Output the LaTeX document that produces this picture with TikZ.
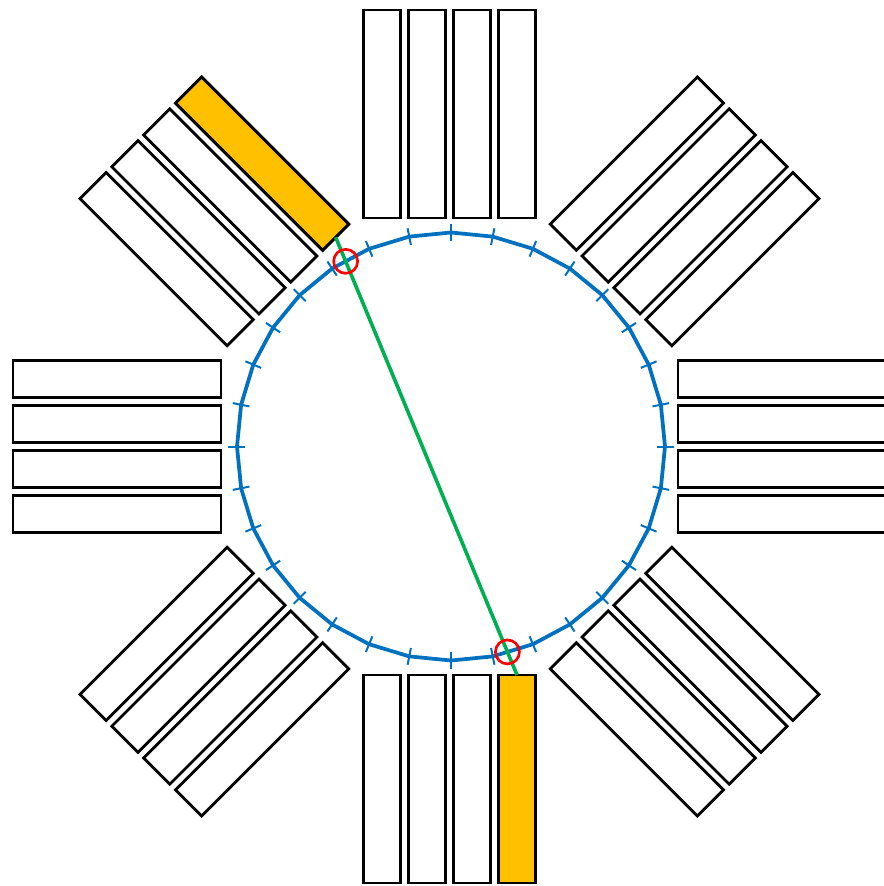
\documentclass[tikz,border=0pt]{standalone}
\usetikzlibrary{intersections}
\definecolor{detblue}{HTML}{0070C0}
\definecolor{detgreen}{HTML}{00B050}
\definecolor{detyellow}{HTML}{FFC000}
\begin{document}
\begin{tikzpicture}[x=0.75pt,y=0.75pt,
  crystal/.style={draw=black,line width=2.1pt,fill=white},
  hot/.style={draw=black,line width=2.1pt,fill=detyellow},
  ring/.style={draw=detblue,line width=2.8pt,line join=round},
  ringtick/.style={draw=detblue,line width=1.5pt},
  lor/.style={draw=detgreen,line width=2.7pt},
  hit/.style={draw=red,line width=2pt}]
\useasboundingbox (-449.5,-439.5) rectangle (433.5,446.5);
% detector blocks
\foreach \a in {0,45,...,315}{
  \begin{scope}[rotate=\a]
    \foreach \c in {-67.5,-22.5,22.5,67.5}
      \draw[crystal] (\c-18.5,228.5) rectangle (\c+18.5,436.5);
  \end{scope}
}
% highlighted crystals
\begin{scope}[rotate=45]
  \draw[hot] (49,228.5) rectangle (86,436.5);
  \coordinate (lorA) at (67.5,228.5);
\end{scope}
\begin{scope}[rotate=180]
  \draw[hot] (-86,228.5) rectangle (-49,436.5);
  \coordinate (lorB) at (-67.5,228.5);
\end{scope}
% ring polygon
\draw[ring,shift={(1.5,0)},name path=ring] (0:214)
  \foreach \k in {1,...,31}{ -- (\k*11.25:214) } -- cycle;
\foreach \k in {0,...,31}
  \draw[ringtick,shift={(1.5,0)}] (\k*11.25:205.5) -- (\k*11.25:222.5);
% line of response
\draw[lor,name path=lor] (lorA) -- (lorB);
\path[name intersections={of=ring and lor,name=hitpt}];
\draw[hit] (hitpt-1) circle (12);
\draw[hit] (hitpt-2) circle (12);
\end{tikzpicture}
\end{document}
